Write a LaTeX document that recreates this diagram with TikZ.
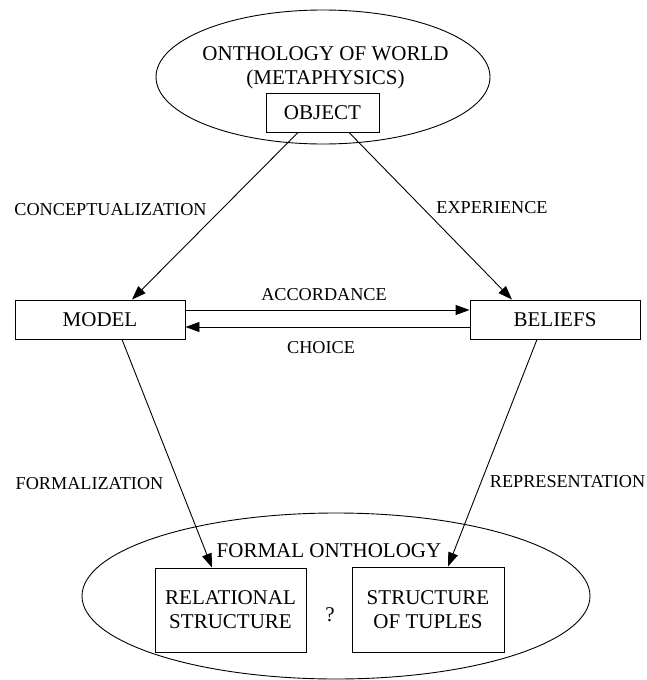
\documentclass[tikz,border=0pt]{standalone}
\usepackage{fontspec}
\setmainfont{Liberation Serif}
\usetikzlibrary{shapes.geometric,arrows.meta,calc}
\begin{document}
\begin{tikzpicture}[x=1pt,y=-1pt,
  lw/.style={line width=0.9pt},
  nodefont/.style={font=\fontsize{21}{24}\selectfont},
  labfont/.style={font=\fontsize{18.2}{21}\selectfont},
  oval/.style={lw, draw, ellipse, inner sep=0pt},
  onebox/.style={lw, draw, nodefont, inner sep=0pt, text height=14pt, text depth=0pt},
  twobox/.style={lw, draw, nodefont, inner sep=0pt, align=center},
  plain/.style={nodefont, inner sep=0pt},
  lab/.style={labfont, inner sep=0pt, anchor=base},
  arr/.style={lw, -{Triangle[length=14pt,width=10pt]}}
]
\useasboundingbox (0,0) rectangle (647,680);

% top ellipse
\node[oval, minimum width=334pt, minimum height=134pt] (world) at (323,77) {};
\node[plain, anchor=base] (ow1) at (325.5,60) {ONTHOLOGY OF WORLD};
\node[plain, anchor=base] (ow2) at (325.5,84) {(METAPHYSICS)};
\node[onebox, minimum width=113pt, minimum height=39pt] (obj) at (322.5,112.5) {OBJECT};

% middle boxes
\node[onebox, minimum width=170pt, minimum height=39pt] (model) at (100,319.5) {MODEL};
\node[onebox, minimum width=170pt, minimum height=39pt] (bel) at (555,319.5) {BELIEFS};

% bottom ellipse
\node[oval, minimum width=508pt, minimum height=166pt] (formal) at (336,596) {};
\node[plain, anchor=base] (fo) at (329,557) {FORMAL ONTHOLOGY};
\node[twobox, minimum width=151pt, minimum height=84pt] (rel) at (230.5,610) {RELATIONAL\\STRUCTURE};
\node[twobox, minimum width=152pt, minimum height=85pt] (tup) at (428,609.5) {STRUCTURE\\OF TUPLES};
\node[plain] (q) at (330,615) {?};

% connectors
\draw[arr] ([xshift=-24.5pt]obj.south) -- ([xshift=32pt]model.north);
\draw[arr] ([xshift=26.5pt]obj.south) -- ([xshift=-43pt]bel.north);
\draw[arr] ([yshift=9.5pt]model.east) -- ([yshift=9.5pt]bel.west);
\draw[arr] ([yshift=-7.5pt]bel.west) -- ([yshift=-7.5pt]model.east);
\draw[arr] ([xshift=22pt]model.south) -- ([xshift=-18.5pt]rel.north);
\draw[arr] ([xshift=-18pt]bel.south) -- ([xshift=20pt]tup.north);

% labels
\node[lab] (lconc) at (110.5,215) {CONCEPTUALIZATION};
\node[lab] (lexp) at (492,213) {EXPERIENCE};
\node[lab] (lacc) at (324,300) {ACCORDANCE};
\node[lab] (lcho) at (321,353) {CHOICE};
\node[lab] (lform) at (89.5,489) {FORMALIZATION};
\node[lab] (lrep) at (567.5,487) {REPRESENTATION};
\end{tikzpicture}
\end{document}
